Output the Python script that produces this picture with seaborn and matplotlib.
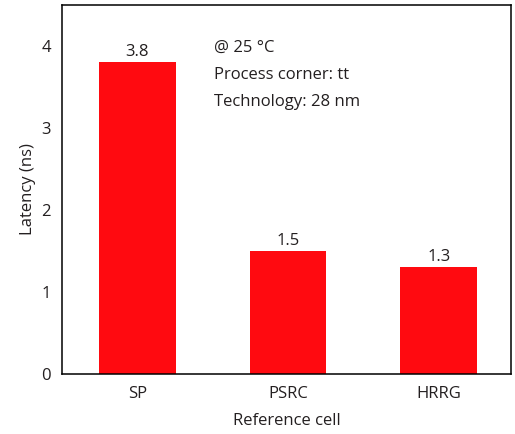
import matplotlib
matplotlib.use("Agg")
import matplotlib.pyplot as plt
import seaborn as sns
import pandas as pd

categories = ["SP", "PSRC", "HRRG"]
latency = [3.8, 1.5, 1.3]
value_labels = ["3.8", "1.5", "1.3"]
y_ticks = [0, 1, 2, 3, 4]
annotation_lines = ["@ 25 \u00b0C", "Process corner: tt", "Technology: 28 nm"]

sns.set_theme(style="white")
plt.rcParams["font.family"] = ["Open Sans", "DejaVu Sans"]

df = pd.DataFrame({"cell": categories, "latency": latency})
txt = "#231f20"
fs = 12

fig = plt.figure(figsize=(5.15, 4.34), dpi=100)
ax = fig.add_axes([62 / 515, (434 - 373.5) / 434, (511 - 62) / 515, (373.5 - 5) / 434])

sns.barplot(data=df, x="cell", y="latency", color="#ff0a10", saturation=1,
            width=0.51, ax=ax, edgecolor="none")

for i, (v, lab) in enumerate(zip(latency, value_labels)):
    ax.text(i, v + 0.025, lab, ha="center", va="bottom", fontsize=fs, color=txt)

ax.text(0.338, 0.905, "\n".join(annotation_lines), transform=ax.transAxes,
        ha="left", va="top", fontsize=fs, color=txt, linespacing=1.9)

ax.set_xlim(-0.5, 2.48)
ax.set_ylim(0, 4.5)
ax.set_yticks(y_ticks)
ax.set_xlabel("Reference cell", fontsize=fs, color=txt, labelpad=8)
ax.set_ylabel("Latency (ns)", fontsize=fs, color=txt, labelpad=4)
ax.tick_params(axis="both", direction="in", length=4, width=1, color="black",
               labelsize=fs, labelcolor=txt)
ax.tick_params(axis="x", pad=9)
ax.tick_params(axis="y", pad=8)
for s in ax.spines.values():
    s.set_visible(True)
    s.set_color("black")
    s.set_linewidth(1.1)

fig.savefig("out.png", dpi=100)
